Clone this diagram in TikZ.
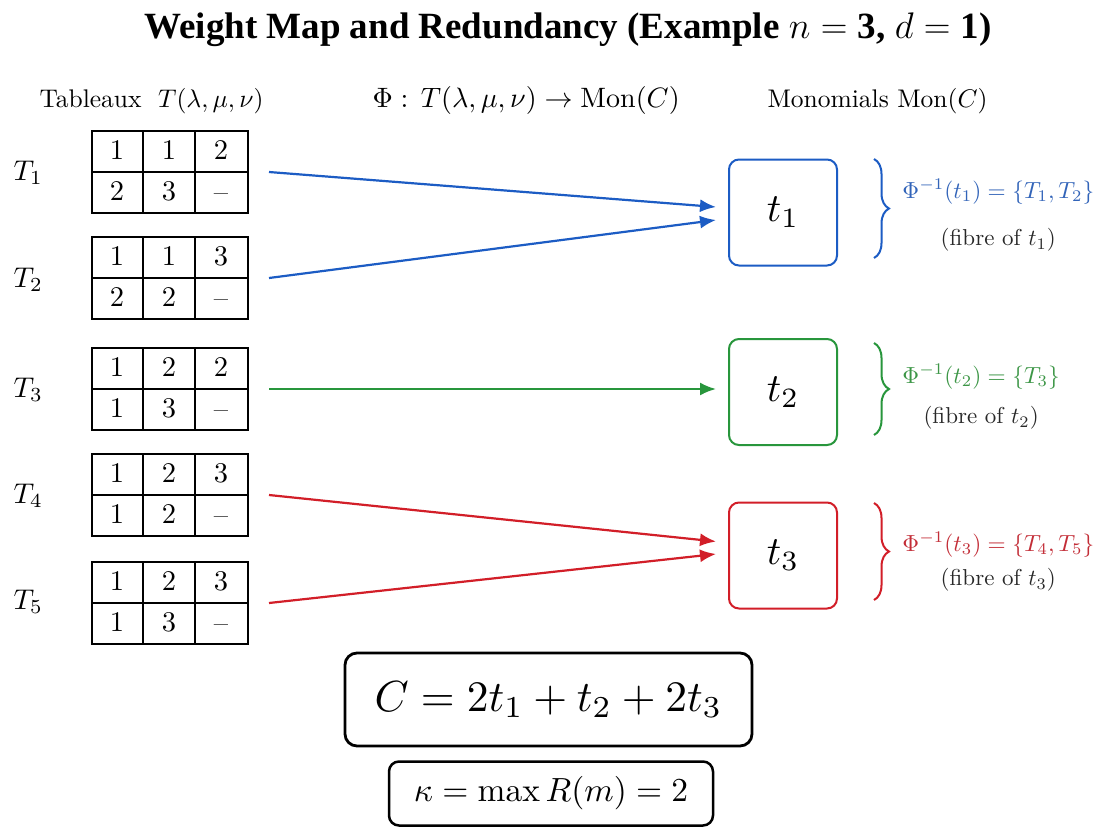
\RequirePackage{fix-cm}
\documentclass[tikz,border=0pt]{standalone}
\usepackage{amsmath}
\usepackage{fontspec}
\newfontfamily\titlefont{Liberation Serif}
\usetikzlibrary{arrows.meta,decorations.pathreplacing,calc}
\definecolor{cblue}{RGB}{28,92,196}
\definecolor{cgreen}{RGB}{40,150,60}
\definecolor{cred}{RGB}{210,30,40}
\definecolor{tblue}{RGB}{50,100,185}
\definecolor{tgreen}{RGB}{60,150,70}
\definecolor{tred}{RGB}{195,45,55}
\definecolor{fibgray}{RGB}{40,40,40}
\newcommand\drawtableau[8]{%
  \node[tabframe] (#1) at (170,{-(#2+41)}) {};
  \draw[tabline] ($(#1.north west)+(52,0)$) -- ($(#1.south west)+(52,0)$);
  \draw[tabline] ($(#1.north west)+(104,0)$) -- ($(#1.south west)+(104,0)$);
  \draw[tabline] (#1.west) -- (#1.east);
  \node[cell] (#1-a) at ($(#1.north west)+(26,-20.5)$) {$#3$};
  \node[cell] (#1-b) at ($(#1.north west)+(78,-20.5)$) {$#4$};
  \node[cell] (#1-c) at ($(#1.north west)+(130,-20.5)$) {$#5$};
  \node[cell] (#1-d) at ($(#1.north west)+(26,-61.5)$) {$#6$};
  \node[cell] (#1-e) at ($(#1.north west)+(78,-61.5)$) {$#7$};
  \node[cell,yshift=-2pt] (#1-f) at ($(#1.north west)+(130,-61.5)$) {#8};
}
\begin{document}
\begin{tikzpicture}[x=1pt,y=1pt,
  txt/.style={inner sep=0pt,font=\fontsize{10}{12}\selectfont},
  tabframe/.style={draw,line width=2pt,minimum width=156pt,minimum height=82pt,inner sep=0pt},
  tabline/.style={line width=2pt},
  cell/.style={txt,scale=2.85},
  tlabel/.style={txt,anchor=base west,scale=2.85},
  header/.style={txt,anchor=base west,scale=2.55},
  monobox/.style={draw,rounded corners=10pt,line width=2pt,minimum width=108pt,minimum height=106pt,inner sep=0pt},
  monolabel/.style={txt,scale=4.0},
  conn/.style={line width=2.2pt,-{Latex[length=16pt,width=13pt]}},
  fbrace/.style={line width=2pt,decorate,decoration={brace,amplitude=15pt}},
  phil/.style={txt,anchor=base west,scale=2.33},
  fibl/.style={txt,text=fibgray,scale=2.3},
  sumbox/.style={draw,rounded corners=12pt,line width=2.8pt,inner sep=0pt}
]
\fill[white] (0,0) rectangle (1105,-827);
\useasboundingbox (0,0) rectangle (1105,-827);

% title
\node[anchor=base,inner sep=0pt,font=\fontsize{37}{44}\titlefont\bfseries] (title) at (568,-38)
  {Weight Map and Redundancy (Example $n=\text{3}$, $d=\text{1}$)};

% headers
\node[header] (h1) at (39,-107) {Tableaux\hspace{6.5pt}$T(\lambda,\mu,\nu)$};
\node[header,scale=1.1] (h2) at (372,-107) {$\Phi:\,T(\lambda,\mu,\nu)\to\mathrm{Mon}(C)$};
\node[header] (h3) at (767,-107) {Monomials $\mathrm{Mon}(C)$};

% tableaux
\drawtableau{tab1}{131}{1}{1}{2}{2}{3}{--}
\drawtableau{tab2}{237}{1}{1}{3}{2}{2}{--}
\drawtableau{tab3}{348}{1}{2}{2}{1}{3}{--}
\drawtableau{tab4}{454}{1}{2}{3}{1}{2}{--}
\drawtableau{tab5}{562}{1}{2}{3}{1}{3}{--}

\node[tlabel] (lT1) at (13,-180) {$T_1$};
\node[tlabel] (lT2) at (13,-287) {$T_2$};
\node[tlabel] (lT3) at (13,-397) {$T_3$};
\node[tlabel] (lT4) at (13,-503) {$T_4$};
\node[tlabel] (lT5) at (13,-609) {$T_5$};

% monomial boxes
\node[monobox,draw=cblue] (t1) at (783,-212.5) {};
\node[monobox,draw=cgreen] (t2) at (783,-392) {};
\node[monobox,draw=cred] (t3) at (783,-555.5) {};
\node[monolabel] (t1l) at (t1.center) {$t_1$};
\node[monolabel] (t2l) at (t2.center) {$t_2$};
\node[monolabel] (t3l) at (t3.center) {$t_3$};

% arrow coordinates
\coordinate (s1) at ($(tab1.east)+(20,0)$);
\coordinate (s2) at ($(tab2.east)+(20,0)$);
\coordinate (s3) at ($(tab3.east)+(20,0)$);
\coordinate (s4) at ($(tab4.east)+(20,0)$);
\coordinate (s5) at ($(tab5.east)+(20,0)$);
\coordinate (e1) at ($(t1.west)+(-12,5.5)$);
\coordinate (e2) at ($(t1.west)+(-12,-7.5)$);
\coordinate (e3) at ($(t2.west)+(-12,0)$);
\coordinate (e4) at ($(t3.west)+(-12,14)$);
\coordinate (e5) at ($(t3.west)+(-12,1.5)$);

\draw[conn,cblue] (s1) -- (e1);
\draw[conn,cblue] (s2) -- (e2);
\draw[conn,cgreen] (s3) -- (s3 -| e3);
\draw[conn,cred] (s4) -- (e4);
\draw[conn,cred] (s5) -- (e5);

% braces
\draw[fbrace,cblue] (874,-159) -- (874,-258);
\draw[fbrace,cgreen] (874,-343) -- (874,-435);
\draw[fbrace,cred] (874,-503) -- (874,-600);

% fibre labels
\node[phil,text=tblue] (phi1) at (902,-198) {$\Phi^{-1}(t_1)=\{T_1,T_2\}$};
\node[phil,text=tgreen] (phi2) at (902,-383) {$\Phi^{-1}(t_2)=\{T_3\}$};
\node[phil,text=tred] (phi3) at (902,-551) {$\Phi^{-1}(t_3)=\{T_4,T_5\}$};
\node[fibl] (fib1) at (phi1.center |- 0,-240) {(fibre of $t_1$)};
\node[fibl] (fib2) at (phi2.center |- 0,-418) {(fibre of $t_2$)};
\node[fibl] (fib3) at (phi3.center |- 0,-580) {(fibre of $t_3$)};

% summary boxes
\node[sumbox,minimum width=407pt,minimum height=93pt] (Cbox) at (548.5,-699.5) {};
\node[txt,scale=4.35] (Cform) at (Cbox.center) {$C = 2t_1 + t_2 + 2t_3$};
\node[sumbox,line width=2.5pt,rounded corners=10pt,minimum width=324pt,minimum height=64pt] (kbox) at (551,-793.5) {};
\node[txt,scale=3.35] (kform) at (kbox.center) {$\kappa = \max R(m) = 2$};
\end{tikzpicture}
\end{document}
